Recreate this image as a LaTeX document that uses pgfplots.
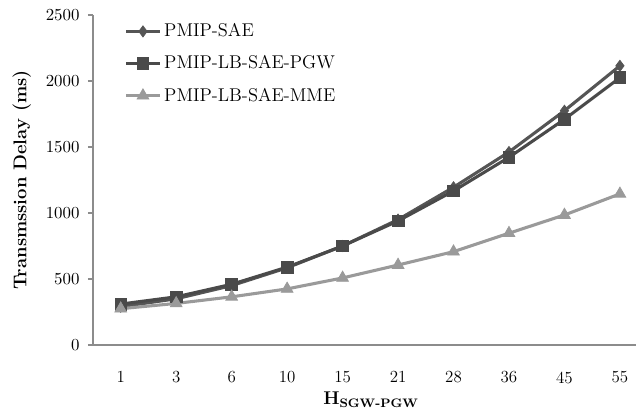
\documentclass[border=0pt]{standalone}
\usepackage{pgfplots}
\pgfplotsset{compat=1.18}
\definecolor{sae}{HTML}{555555}
\definecolor{pgw}{HTML}{4A4A4A}
\definecolor{mme}{HTML}{9A9A9A}
\definecolor{axc}{HTML}{8C8C8C}
\begin{document}
\begin{tikzpicture}
\useasboundingbox (-60.45pt,-46.8pt) rectangle (352.95pt,224.25pt);
\begin{axis}[
  scale only axis,
  width=352.95pt, height=214.5pt,
  xmin=-0.5, xmax=9.29,
  ymin=0, ymax=2500,
  ytick={0,500,1000,1500,2000,2500},
  /pgf/number format/1000 sep={},
  xtick={0,...,9},
  xticklabels={1,3,6,10,15,21,28,36,45,55},
  axis lines*=left,
  axis line style={draw=axc, line width=0.8pt, -},
  x axis line style={-},
  y axis line style={-},
  major tick length=3.25pt,
  xtick style={draw=none},
  ytick style={draw=axc, line width=0.8pt},
  tick align=outside,
  xticklabel style={yshift=-10.5pt},
  yticklabel style={xshift=-2pt},
  tick label style={font=\fontsize{11}{13}\selectfont},
  clip=false,
  ylabel={\textbf{Transmssion Delay (ms)}},
  ylabel style={at={(axis description cs:-0.131,0.5)}, anchor=center, font=\fontsize{12}{14}\selectfont},
  xlabel={$\mathbf{H}_{\textbf{\footnotesize SGW-PGW}}$},
  xlabel style={at={(axis description cs:0.512,-0.1667)}, anchor=center, font=\fontsize{12}{14}\selectfont},
  legend style={at={(axis description cs:0.058,0.984)}, anchor=north west, draw=none, fill=none,
    font=\fontsize{12}{14}\selectfont, row sep=6.8pt, inner sep=0pt},
  legend cell align=left,
  legend image code/.code={\draw[mark repeat=2,mark phase=2] plot coordinates {(0cm,0cm)(0.38cm,0cm)(0.76cm,0cm)};},
]
\addplot[color=sae, line width=2pt, mark=diamond*, mark size=3.6pt, mark options={solid, fill=sae, line width=0.5pt}]
  coordinates {(0,290)(1,350)(2,450)(3,585)(4,750)(5,950)(6,1195)(7,1462)(8,1775)(9,2115)};
\addlegendentry{PMIP-SAE}
\addplot[color=pgw, line width=2pt, mark=square*, mark size=3.8pt, mark options={solid, fill=pgw, line width=0.5pt}]
  coordinates {(0,310)(1,365)(2,460)(3,590)(4,750)(5,940)(6,1167)(7,1422)(8,1710)(9,2025)};
\addlegendentry{PMIP-LB-SAE-PGW}
\addplot[color=mme, line width=2pt, mark=triangle*, mark size=4.4pt, mark options={solid, fill=mme, line width=0.5pt}]
  coordinates {(0,275)(1,315)(2,365)(3,425)(4,508)(5,606)(6,707)(7,847)(8,985)(9,1145)};
\addlegendentry{PMIP-LB-SAE-MME}
\end{axis}
\end{tikzpicture}
\end{document}
